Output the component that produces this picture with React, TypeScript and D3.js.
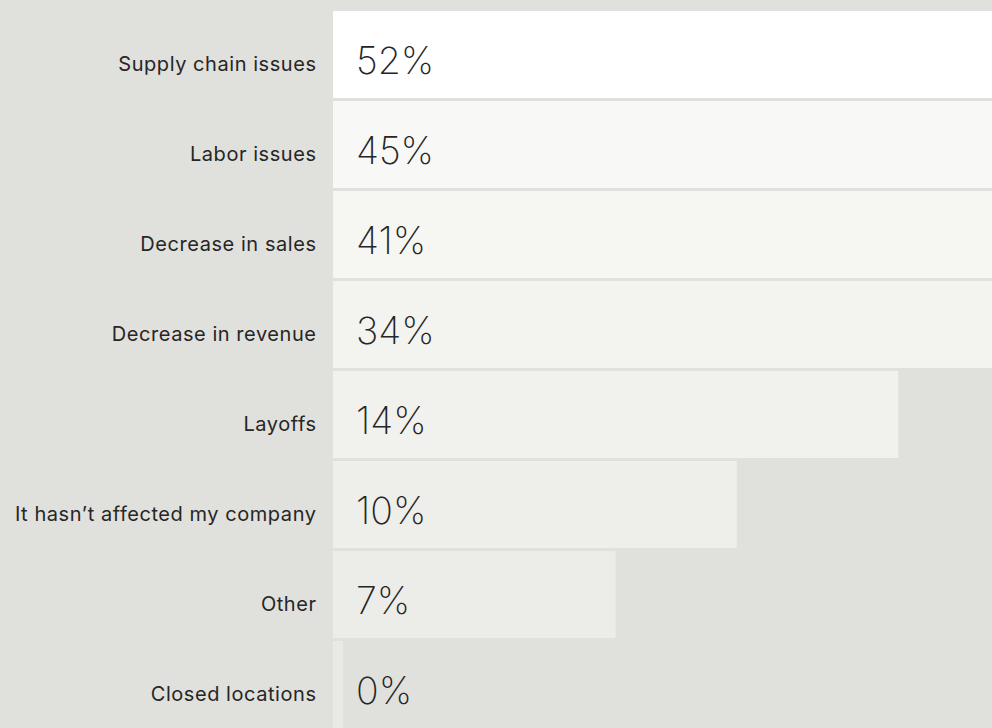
import { useRef, useEffect } from 'react';
import * as d3 from 'd3';

const categories = [
  'Supply chain issues',
  'Labor issues',
  'Decrease in sales',
  'Decrease in revenue',
  'Layoffs',
  'It hasn\u2019t affected my company',
  'Other',
  'Closed locations',
];
const values = [52, 45, 41, 34, 14, 10, 7, 0];

export default function App() {
  const svgRef = useRef<SVGSVGElement>(null);

  useEffect(() => {
    const width = 992;
    const height = 728;
    const left = 333;
    const rowH = 90;
    const barH = 87;
    const top = 11;

    const svg = d3.select(svgRef.current).attr('width', width).attr('height', height);
    svg.selectAll('*').remove();

    svg.append('rect').attr('width', width).attr('height', height).attr('fill', '#e0e0dc');

    // 40.4px per percentage point, bars past the edge get cut off
    const x = d3.scaleLinear().domain([0, 16]).range([0, 646]);
    const y = (i: number) => top + i * rowH;
    const color = d3.scaleLinear<string>()
      .domain([0, 1, categories.length - 1])
      .range(['#ffffff', '#f8f8f6', '#e9e9e5']);

    const rows = svg.selectAll('g.row')
      .data(values)
      .enter()
      .append('g')
      .attr('class', 'row')
      .attr('transform', (d, i) => `translate(0, ${y(i)})`);

    rows.append('rect')
      .attr('x', left)
      .attr('y', 0)
      .attr('width', d => Math.max(10, x(d)))
      .attr('height', barH)
      .attr('fill', (d, i) => color(i));

    rows.append('text')
      .attr('x', 316.5)
      .attr('y', 60)
      .attr('text-anchor', 'end')
      .attr('font-family', 'Inter, sans-serif')
      .attr('font-size', 20)
      .attr('letter-spacing', 0.55)
      .attr('fill', '#262626')
      .text((d, i) => categories[i]);

    rows.append('text')
      .attr('x', 356)
      .attr('y', 63)
      .attr('font-family', 'Inter, sans-serif')
      .attr('font-weight', 200)
      .attr('font-size', 37.5)
      .attr('fill', '#262626')
      .text(d => `${d}%`);
  }, []);

  return (
    <div style={{ position: 'absolute', left: 0, top: 0 }}>
      <svg ref={svgRef} style={{ display: 'block' }} />
    </div>
  );
}
